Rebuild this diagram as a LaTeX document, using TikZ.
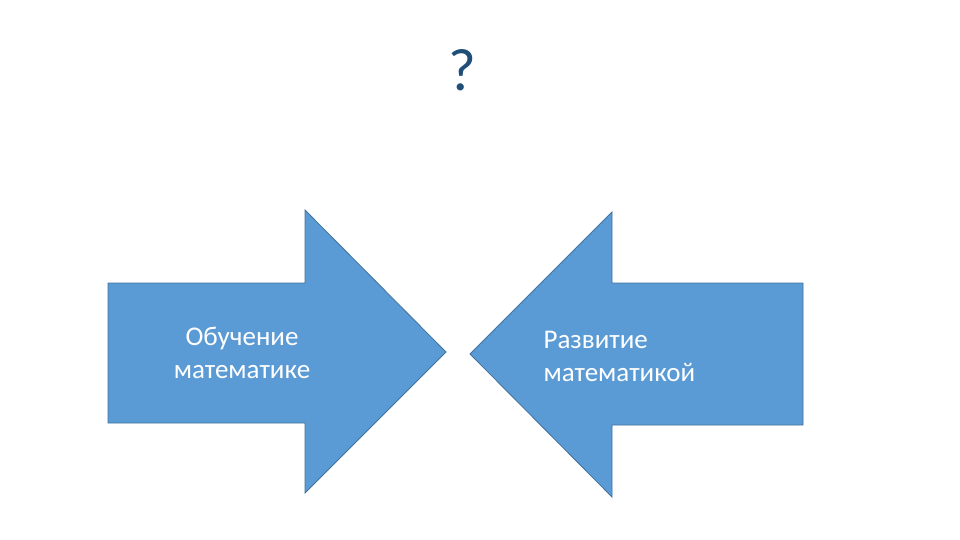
\documentclass[tikz,border=0pt]{standalone}
\usepackage{fontspec}
\setmainfont{Carlito}
\definecolor{fillb}{HTML}{5B9BD5}
\definecolor{edgeb}{HTML}{41719C}
\definecolor{qcol}{HTML}{1F4E79}
\begin{document}
\begin{tikzpicture}[x=1pt,y=-1pt,
  arr/.style={fill=fillb,draw=edgeb,line width=0.8pt,line join=miter},
  lbl/.style={text=white,font=\fontsize{27}{33}\selectfont,align=left}]
\useasboundingbox (0,0) rectangle (960,540);
\node[text=qcol,font=\fontsize{60}{60}\selectfont] (q) at (462,70) {?};
\draw[arr] (108,283) -- (305,283) -- (305,210) -- (446,352) -- (305,493) -- (305,423) -- (108,423) -- cycle;
\draw[arr] (803,283) -- (612,283) -- (612,212) -- (470,354) -- (612,497) -- (612,425) -- (803,425) -- cycle;
\node[lbl,align=center] (l) at (242,353) {Обучение\\математике};
\node[lbl,anchor=west] (r) at (540,356) {Развитие\\математикой};
\end{tikzpicture}
\end{document}
